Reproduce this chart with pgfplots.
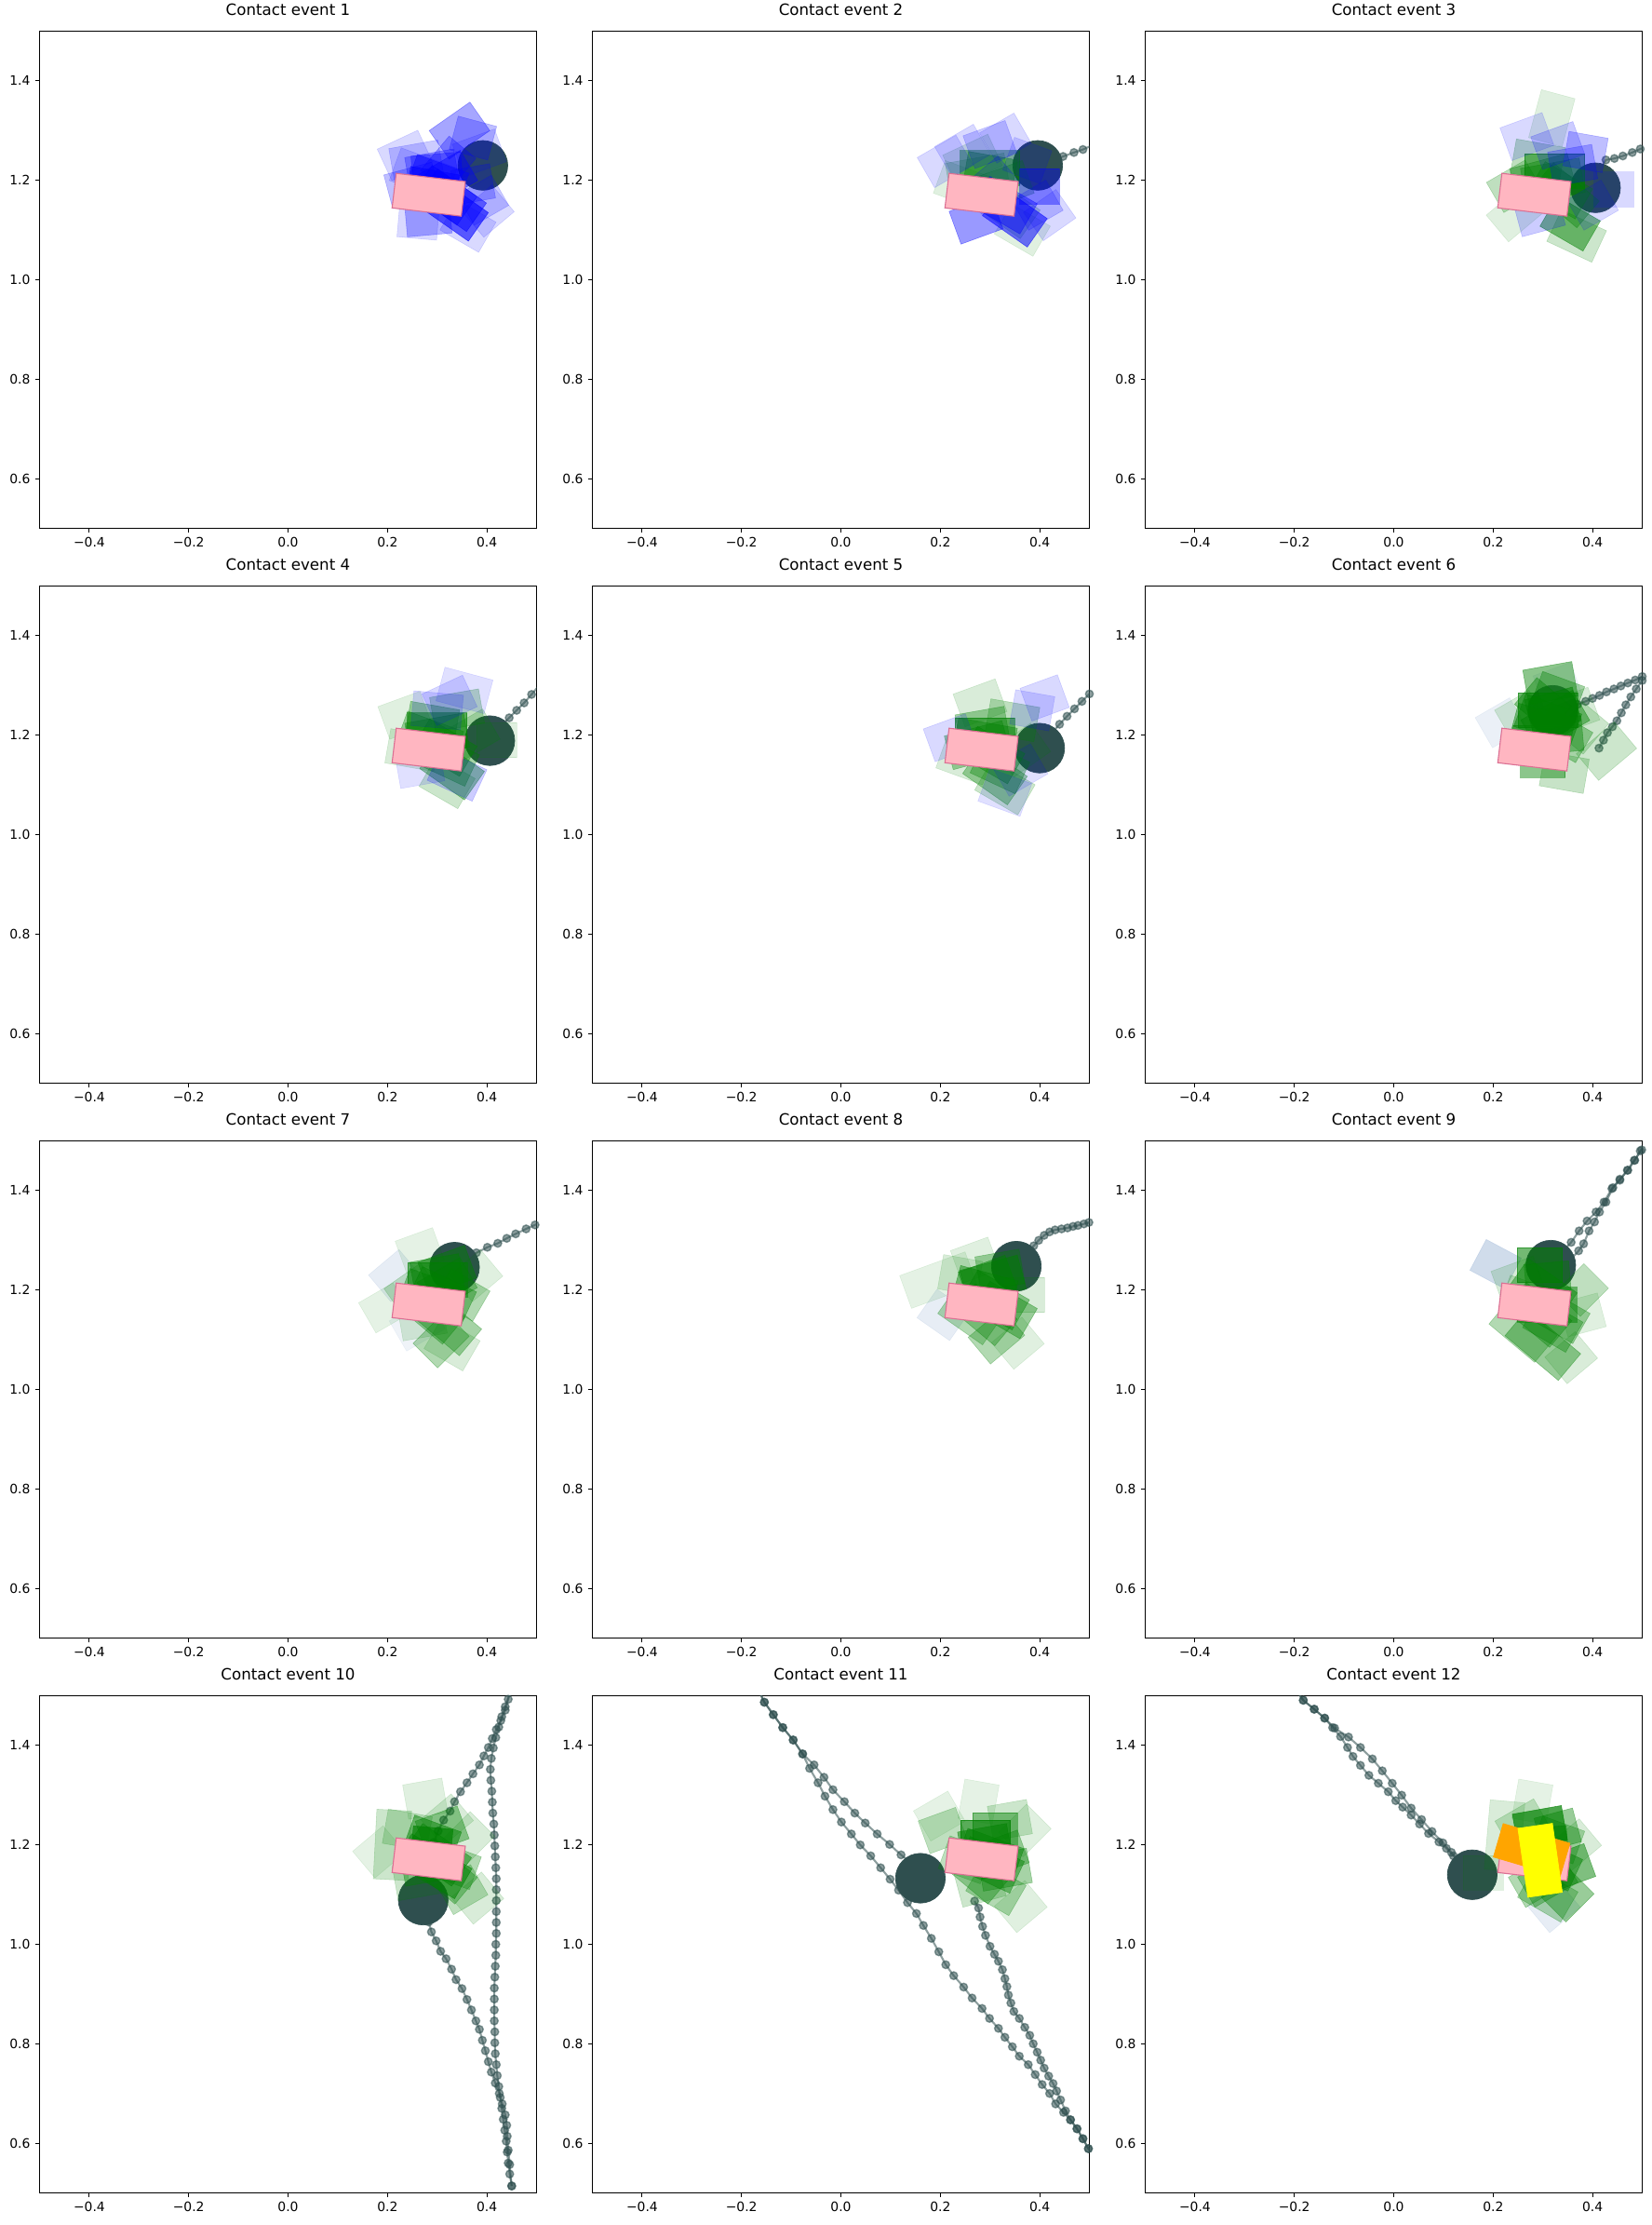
\documentclass[border=0pt]{standalone}
\usepackage{fontspec}
\setmainfont{DejaVu Sans}
\usepackage{pgfplots}
\pgfplotsset{compat=1.18}

\definecolor{dslate}{HTML}{2F4F4F}
\definecolor{lpink}{HTML}{FFB6C1}
\definecolor{pinkedge}{HTML}{DB7093}
\definecolor{mgreen}{HTML}{008000}
\definecolor{mblue}{HTML}{0000FF}
\definecolor{lsteel}{HTML}{B0C4DE}
\definecolor{morange}{HTML}{FFA500}
\definecolor{myellow}{HTML}{FFFF00}

\pgfplotsset{
  panel/.style={
    width=384.48pt, height=384.48pt, scale only axis, anchor=north west,
    xmin=-0.5, xmax=0.5, ymin=0.5, ymax=1.5,
    axis line style={line width=0.8pt, black},
    tick pos=left, tick align=outside, major tick length=3.5pt,
    every tick/.style={line width=0.8pt, black},
    xtick={-0.4,-0.2,0,0.2,0.4},
    xticklabels={−0.4,−0.2,0.0,0.2,0.4},
    ytick={0.6,0.8,1.0,1.2,1.4},
    yticklabels={0.6,0.8,1.0,1.2,1.4},
    tick label style={font=\fontsize{10}{12}\selectfont},
    xticklabel style={inner sep=0pt, anchor=north, yshift=-3.5pt},
    yticklabel style={inner sep=0pt, anchor=east, xshift=-3.5pt},
    title style={font=\fontsize{12}{14.4}\selectfont, at={(0.5,1)}, anchor=base, yshift=6pt, inner sep=0pt},
  },
  % one translucent pose hypothesis per row: centre, angle, width, opacity
  rects/.style={only marks, scatter, mark=square*, mark size=13.46pt,
    scatter/use mapped color={draw=#1, fill=#1},
    visualization depends on={\thisrow{a} \as \rang},
    visualization depends on={\thisrow{w}/0.07 \as \rsc},
    visualization depends on={\thisrow{o} \as \rop},
    scatter/@pre marker code/.append style={/tikz/rotate=\rang, /tikz/xscale=\rsc,
      /utils/exec={\pgfsetfillopacity{\rop}\pgfsetstrokeopacity{\rop}}, /tikz/line width=0.8pt}},
  traj/.style={color=dslate, line width=1.5pt, opacity=0.55, mark=*, mark size=3pt,
    mark options={line width=1pt, fill=dslate, fill opacity=0.55, draw opacity=0.55}},
  ball/.style={only marks, mark=*, mark size=19.22pt, mark options={fill=dslate, draw=dslate, line width=0.5pt}},
  block/.style={only marks, mark=square*, mark size=13.46pt,
    mark options={rotate=-6.8, xscale=2, fill=lpink, draw=pinkedge, line width=0.8pt}},
}

\begin{document}
\begin{tikzpicture}
\path (0,0) rectangle (1277.28pt,-1720.8pt);

% ---------------- row 1 ----------------
\begin{axis}[panel, at={(30.6pt,-24.12pt)}, title={Contact event 1}]
\addplot[ball] coordinates {(0.392,1.230)};
\addplot[rects=mblue] table {
x y a w o
0.345 1.300 35 0.10 0.35
0.372 1.285 -15 0.08 0.25
0.385 1.255 20 0.09 0.15
0.235 1.250 25 0.09 0.15
0.258 1.238 10 0.10 0.20
0.272 1.212 -20 0.12 0.15
0.300 1.218 5 0.10 0.35
0.312 1.200 30 0.12 0.40
0.290 1.185 -10 0.10 0.50
0.322 1.232 50 0.09 0.30
0.330 1.160 -35 0.12 0.50
0.342 1.135 -35 0.10 0.60
0.282 1.125 5 0.09 0.30
0.262 1.118 -5 0.08 0.15
0.392 1.160 30 0.08 0.20
0.402 1.138 40 0.08 0.15
0.372 1.192 10 0.08 0.25
0.362 1.108 -30 0.09 0.15
0.250 1.190 15 0.10 0.25
0.300 1.200 -20 0.11 0.40
0.315 1.170 -35 0.11 0.40
0.290 1.220 10 0.10 0.30
};
\addplot[block] coordinates {(0.283,1.171)};
\end{axis}

\begin{axis}[panel, at={(458.28pt,-24.12pt)}, title={Contact event 2}]
\addplot[traj] coordinates {(0.396,1.230) (0.427,1.240) (0.447,1.248) (0.469,1.256) (0.487,1.262) (0.505,1.270)};
\addplot[ball] coordinates {(0.396,1.230)};
\addplot[rects=mgreen] table {
x y a w o
0.300 1.225 0 0.12 0.45
0.275 1.210 10 0.12 0.20
0.245 1.190 -20 0.10 0.12
0.330 1.190 20 0.10 0.30
0.340 1.140 -35 0.10 0.20
0.365 1.100 -30 0.09 0.12
0.265 1.240 25 0.10 0.15
0.300 1.215 -10 0.10 0.40
};
\addplot[rects=mblue] table {
x y a w o
0.272 1.120 20 0.09 0.40
0.350 1.126 -35 0.11 0.55
0.331 1.285 30 0.08 0.15
0.300 1.272 20 0.09 0.20
0.210 1.238 30 0.09 0.15
0.400 1.188 0 0.08 0.40
0.420 1.130 35 0.08 0.15
0.395 1.150 30 0.08 0.20
0.245 1.260 30 0.09 0.15
0.375 1.240 -20 0.08 0.15
0.300 1.190 40 0.10 0.20
0.330 1.150 -30 0.11 0.40
};
\addplot[block] coordinates {(0.283,1.171)};
\end{axis}

\begin{axis}[panel, at={(885.96pt,-24.12pt)}, title={Contact event 3}]
\addplot[traj] coordinates {(0.406,1.185) (0.415,1.222) (0.427,1.241) (0.444,1.244) (0.461,1.249) (0.480,1.256) (0.496,1.263) (0.512,1.270)};
\addplot[ball] coordinates {(0.406,1.185)};
\addplot[rects=mgreen] table {
x y a w o
0.324 1.219 0 0.12 0.55
0.300 1.205 15 0.12 0.35
0.355 1.113 -30 0.10 0.50
0.368 1.088 -25 0.10 0.20
0.318 1.325 75 0.10 0.12
0.243 1.188 30 0.09 0.25
0.243 1.132 40 0.09 0.12
0.290 1.240 -10 0.10 0.25
0.345 1.170 -40 0.12 0.35
0.320 1.200 10 0.12 0.35
0.335 1.180 -30 0.11 0.35
};
\addplot[rects=mblue] table {
x y a w o
0.268 1.288 20 0.09 0.15
0.386 1.257 -10 0.08 0.25
0.443 1.182 0 0.08 0.15
0.293 1.132 15 0.09 0.20
0.330 1.270 20 0.09 0.20
0.400 1.150 30 0.08 0.15
0.360 1.230 10 0.09 0.25
};
\addplot[block] coordinates {(0.283,1.171)};
\end{axis}

% ---------------- row 2 ----------------
\begin{axis}[panel, at={(30.6pt,-453.24pt)}, title={Contact event 4}]
\addplot[traj] coordinates {(0.406,1.189) (0.430,1.220) (0.445,1.235) (0.460,1.250) (0.475,1.265) (0.490,1.282) (0.505,1.300)};
\addplot[ball] coordinates {(0.406,1.189)};
\addplot[rects=mgreen] table {
x y a w o
0.300 1.210 0 0.12 0.55
0.285 1.195 -20 0.12 0.35
0.235 1.240 20 0.09 0.12
0.250 1.170 -10 0.10 0.15
0.330 1.130 -35 0.11 0.40
0.320 1.105 -30 0.09 0.20
0.340 1.250 10 0.10 0.25
0.370 1.200 30 0.09 0.20
0.420 1.190 0 0.08 0.12
0.300 1.200 10 0.12 0.40
0.315 1.175 -30 0.11 0.40
0.290 1.225 -10 0.10 0.35
0.325 1.150 -25 0.10 0.35
};
\addplot[rects=mblue] table {
x y a w o
0.355 1.290 -15 0.10 0.12
0.325 1.270 25 0.09 0.15
0.300 1.250 -5 0.10 0.15
0.340 1.120 -25 0.10 0.20
0.265 1.135 10 0.09 0.12
};
\addplot[block] coordinates {(0.283,1.171)};
\end{axis}

\begin{axis}[panel, at={(458.28pt,-453.24pt)}, title={Contact event 5}]
\addplot[traj] coordinates {(0.400,1.174) (0.425,1.205) (0.440,1.222) (0.455,1.238) (0.470,1.253) (0.485,1.268) (0.500,1.283) (0.515,1.298)};
\addplot[ball] coordinates {(0.400,1.174)};
\addplot[rects=mgreen] table {
x y a w o
0.290 1.200 0 0.12 0.55
0.275 1.180 15 0.12 0.35
0.280 1.265 20 0.09 0.15
0.250 1.150 -20 0.10 0.15
0.310 1.120 -35 0.11 0.35
0.330 1.095 -30 0.10 0.20
0.345 1.230 -10 0.10 0.25
0.365 1.170 35 0.09 0.15
0.290 1.190 -10 0.12 0.40
0.305 1.160 -30 0.11 0.40
0.285 1.215 10 0.10 0.35
0.320 1.135 -25 0.10 0.35
};
\addplot[rects=mblue] table {
x y a w o
0.410 1.275 20 0.08 0.15
0.385 1.250 -10 0.08 0.15
0.220 1.195 20 0.09 0.15
0.330 1.085 -20 0.09 0.12
0.360 1.130 30 0.09 0.12
};
\addplot[block] coordinates {(0.283,1.171)};
\end{axis}

\begin{axis}[panel, at={(885.96pt,-453.24pt)}, title={Contact event 6}]
\addplot[traj] coordinates {(0.320,1.250) (0.350,1.260) (0.370,1.262) (0.386,1.268) (0.400,1.274) (0.414,1.280) (0.428,1.287) (0.443,1.293) (0.457,1.299) (0.471,1.305) (0.486,1.311) (0.500,1.318) (0.515,1.325)};
\addplot[traj] coordinates {(0.413,1.174) (0.422,1.190) (0.430,1.205) (0.440,1.217) (0.449,1.229) (0.458,1.245) (0.467,1.261) (0.477,1.277) (0.488,1.293) (0.500,1.310) (0.510,1.325)};
\addplot[ball] coordinates {(0.320,1.250)};
\addplot[rects=lsteel] table {
x y a w o
0.216 1.225 30 0.08 0.25
0.330 1.300 20 0.08 0.20
};
\addplot[rects=mgreen] table {
x y a w o
0.315 1.305 10 0.10 0.45
0.310 1.250 0 0.12 0.55
0.325 1.230 30 0.12 0.45
0.300 1.215 -15 0.12 0.45
0.290 1.185 0 0.10 0.40
0.340 1.200 -30 0.10 0.35
0.428 1.168 40 0.10 0.20
0.343 1.125 -10 0.09 0.22
0.300 1.150 0 0.09 0.45
0.365 1.250 20 0.08 0.15
0.380 1.215 50 0.08 0.20
0.255 1.240 30 0.08 0.15
0.330 1.280 -20 0.09 0.35
0.320 1.250 15 0.10 0.50
0.310 1.230 -20 0.12 0.45
0.330 1.200 5 0.10 0.40
0.300 1.260 -40 0.09 0.40
};
\addplot[block] coordinates {(0.283,1.171)};
\end{axis}

% ---------------- row 3 ----------------
\begin{axis}[panel, at={(30.6pt,-882.36pt)}, title={Contact event 7}]
\addplot[traj] coordinates {(0.335,1.246) (0.360,1.263) (0.379,1.275) (0.401,1.286) (0.422,1.294) (0.440,1.304) (0.458,1.313) (0.479,1.323) (0.497,1.331) (0.515,1.340)};
\addplot[ball] coordinates {(0.335,1.246)};
\addplot[rects=lsteel] table {
x y a w o
0.215 1.229 40 0.08 0.30
0.260 1.130 30 0.09 0.20
};
\addplot[rects=mgreen] table {
x y a w o
0.301 1.221 0 0.12 0.50
0.320 1.240 20 0.10 0.45
0.290 1.190 -20 0.12 0.40
0.308 1.100 45 0.09 0.30
0.325 1.130 -40 0.11 0.35
0.194 1.164 30 0.08 0.10
0.265 1.279 20 0.08 0.10
0.379 1.229 40 0.08 0.12
0.350 1.190 -30 0.09 0.30
0.270 1.140 10 0.09 0.15
0.330 1.090 -30 0.09 0.15
0.250 1.200 35 0.09 0.20
0.300 1.230 10 0.10 0.45
0.310 1.190 -25 0.12 0.40
0.295 1.150 -40 0.10 0.35
0.320 1.210 30 0.10 0.35
};
\addplot[block] coordinates {(0.283,1.171)};
\end{axis}

\begin{axis}[panel, at={(458.28pt,-882.36pt)}, title={Contact event 8}]
\addplot[traj] coordinates {(0.353,1.248) (0.375,1.275) (0.388,1.289) (0.398,1.300) (0.409,1.310) (0.420,1.317) (0.431,1.321) (0.444,1.323) (0.456,1.325) (0.467,1.328) (0.477,1.330) (0.489,1.333) (0.499,1.336) (0.510,1.340)};
\addplot[ball] coordinates {(0.353,1.248)};
\addplot[rects=lsteel] table {
x y a w o
0.206 1.150 -35 0.08 0.30
};
\addplot[rects=mgreen] table {
x y a w o
0.196 1.220 20 0.14 0.10
0.306 1.221 15 0.12 0.50
0.290 1.200 -15 0.12 0.45
0.313 1.107 40 0.09 0.30
0.356 1.093 40 0.08 0.12
0.330 1.160 -30 0.11 0.40
0.260 1.150 -35 0.11 0.30
0.370 1.190 0 0.08 0.15
0.270 1.260 20 0.08 0.12
0.240 1.230 -10 0.08 0.15
0.295 1.220 20 0.10 0.45
0.310 1.180 -30 0.12 0.40
0.290 1.150 -40 0.11 0.35
0.320 1.240 10 0.09 0.35
};
\addplot[block] coordinates {(0.283,1.171)};
\end{axis}

\begin{axis}[panel, at={(885.96pt,-882.36pt)}, title={Contact event 9}]
\addplot[traj] coordinates {(0.316,1.250) (0.340,1.278) (0.357,1.296) (0.373,1.319) (0.389,1.339) (0.407,1.357) (0.423,1.377) (0.439,1.404) (0.455,1.423) (0.471,1.441) (0.485,1.461) (0.496,1.480) (0.510,1.500)};
\addplot[traj] coordinates {(0.355,1.260) (0.372,1.279) (0.382,1.293) (0.393,1.319) (0.404,1.337) (0.414,1.357) (0.427,1.377) (0.441,1.406) (0.455,1.421) (0.470,1.441) (0.484,1.461) (0.499,1.482) (0.510,1.500)};
\addplot[ball] coordinates {(0.316,1.250)};
\addplot[rects=lsteel] table {
x y a w o
0.205 1.252 -28 0.08 0.60
};
\addplot[rects=mgreen] table {
x y a w o
0.294 1.250 0 0.09 0.55
0.308 1.171 0 0.12 0.50
0.300 1.090 -40 0.14 0.40
0.357 1.064 40 0.08 0.15
0.379 1.200 45 0.08 0.25
0.260 1.120 -40 0.12 0.30
0.330 1.150 -30 0.11 0.35
0.250 1.220 20 0.09 0.15
0.380 1.150 15 0.08 0.12
0.270 1.180 -20 0.10 0.20
0.300 1.200 -35 0.12 0.40
0.290 1.150 -40 0.12 0.35
0.310 1.220 5 0.09 0.40
0.320 1.130 -30 0.10 0.35
};
\addplot[block] coordinates {(0.283,1.171)};
\end{axis}

% ---------------- row 4 ----------------
\begin{axis}[panel, at={(30.6pt,-1311.48pt)}, title={Contact event 10}]
\addplot[traj] coordinates {(0.449,1.515) (0.443,1.493) (0.437,1.471) (0.428,1.450) (0.419,1.432) (0.411,1.414) (0.403,1.396) (0.394,1.379) (0.385,1.361) (0.372,1.343) (0.360,1.325) (0.347,1.307) (0.335,1.287) (0.326,1.268) (0.313,1.250) (0.302,1.228) (0.293,1.205) (0.286,1.182) (0.280,1.158) (0.276,1.135) (0.274,1.112) (0.275,1.089) (0.278,1.066) (0.283,1.045) (0.2885,1.025) (0.298,1.007) (0.307,0.986) (0.318,0.971) (0.329,0.950) (0.338,0.929) (0.350,0.911) (0.360,0.889) (0.369,0.868) (0.378,0.846) (0.385,0.829) (0.391,0.807) (0.397,0.786) (0.403,0.764) (0.409,0.743) (0.417,0.721) (0.425,0.700) (0.431,0.679) (0.437,0.657) (0.440,0.636) (0.441,0.614) (0.443,0.586) (0.446,0.557) (0.450,0.514)};
\addplot[traj] coordinates {(0.449,1.515) (0.437,1.478) (0.430,1.458) (0.424,1.437) (0.418,1.416) (0.413,1.395) (0.409,1.374) (0.407,1.352) (0.408,1.330) (0.410,1.308) (0.411,1.286) (0.412,1.264) (0.414,1.242) (0.415,1.220) (0.416,1.198) (0.417,1.176) (0.418,1.154) (0.419,1.132) (0.419,1.110) (0.419,1.088) (0.419,1.066) (0.419,1.044) (0.419,1.022) (0.418,1.000) (0.418,0.978) (0.417,0.956) (0.416,0.934) (0.415,0.912) (0.415,0.890) (0.415,0.868) (0.415,0.846) (0.416,0.824) (0.416,0.802) (0.417,0.780) (0.419,0.758) (0.421,0.736) (0.424,0.714) (0.427,0.692) (0.430,0.670) (0.433,0.648) (0.436,0.626) (0.439,0.604) (0.441,0.582) (0.443,0.560) (0.446,0.538) (0.450,0.514)};
\addplot[ball] coordinates {(0.272,1.089)};
\addplot[rects=mgreen] table {
x y a w o
0.276 1.293 10 0.08 0.12
0.183 1.186 40 0.08 0.10
0.210 1.200 87 0.14 0.20
0.289 1.200 -5 0.08 0.65
0.292 1.157 -30 0.14 0.55
0.363 1.214 45 0.08 0.15
0.381 1.093 40 0.08 0.15
0.350 1.110 30 0.08 0.25
0.240 1.230 -10 0.09 0.20
0.320 1.250 40 0.08 0.15
0.330 1.160 -20 0.10 0.30
0.260 1.130 10 0.09 0.20
0.290 1.210 -20 0.10 0.50
0.300 1.180 -35 0.12 0.45
0.280 1.160 10 0.10 0.40
0.310 1.230 20 0.09 0.40
0.320 1.140 -40 0.10 0.35
};
\addplot[block] coordinates {(0.283,1.171)};
\end{axis}

\begin{axis}[panel, at={(458.28pt,-1311.48pt)}, title={Contact event 11}]
\addplot[traj] coordinates {(-0.165,1.510) (-0.154,1.487) (-0.136,1.462) (-0.117,1.436) (-0.096,1.411) (-0.077,1.383) (-0.063,1.354) (-0.046,1.325) (-0.032,1.298) (-0.016,1.271) (0.001,1.246) (0.021,1.222) (0.039,1.200) (0.060,1.178) (0.080,1.154) (0.099,1.131) (0.116,1.109) (0.134,1.084) (0.152,1.062) (0.166,1.038) (0.182,1.012) (0.197,0.985) (0.211,0.959) (0.227,0.937) (0.247,0.914) (0.264,0.892) (0.284,0.871) (0.299,0.851) (0.317,0.831) (0.330,0.813) (0.345,0.794) (0.359,0.775) (0.377,0.758) (0.391,0.738) (0.405,0.718) (0.420,0.700) (0.432,0.679) (0.448,0.662) (0.462,0.647) (0.475,0.629) (0.487,0.609) (0.498,0.589) (0.510,0.575)};
\addplot[traj] coordinates {(-0.165,1.510) (-0.154,1.487) (-0.136,1.462) (-0.117,1.436) (-0.096,1.411) (-0.077,1.383) (-0.054,1.361) (-0.034,1.336) (-0.016,1.311) (0.007,1.287) (0.028,1.264) (0.049,1.244) (0.073,1.222) (0.098,1.201) (0.121,1.180) (0.140,1.165)};
\addplot[traj] coordinates {(0.269,1.087) (0.277,1.073) (0.280,1.055) (0.285,1.036) (0.291,1.018) (0.300,0.996) (0.309,0.980) (0.317,0.966) (0.325,0.949) (0.330,0.931) (0.334,0.915) (0.337,0.898) (0.342,0.882) (0.348,0.865) (0.359,0.851) (0.370,0.833) (0.380,0.817) (0.387,0.800) (0.395,0.783) (0.402,0.767) (0.409,0.751) (0.418,0.735) (0.427,0.720) (0.434,0.705) (0.442,0.687) (0.452,0.665) (0.462,0.647) (0.475,0.629) (0.487,0.609) (0.498,0.589) (0.510,0.575)};
\addplot[ball] coordinates {(0.160,1.133)};
\addplot[rects=mgreen] table {
x y a w o
0.198 1.258 30 0.08 0.10
0.277 1.287 80 0.08 0.10
0.291 1.215 0 0.10 0.65
0.205 1.229 20 0.08 0.25
0.370 1.229 45 0.08 0.12
0.312 1.113 -30 0.10 0.30
0.362 1.076 40 0.08 0.12
0.300 1.180 -20 0.12 0.45
0.330 1.150 10 0.10 0.35
0.250 1.170 -20 0.09 0.25
0.340 1.250 10 0.08 0.20
0.280 1.120 15 0.09 0.20
0.290 1.200 10 0.10 0.50
0.300 1.160 -25 0.12 0.45
0.310 1.230 0 0.09 0.45
0.280 1.140 -40 0.10 0.35
0.320 1.180 20 0.10 0.35
};
\addplot[block] coordinates {(0.283,1.171)};
\end{axis}

\begin{axis}[panel, at={(885.96pt,-1311.48pt)}, title={Contact event 12}]
\addplot[traj] coordinates {(-0.195,1.510) (-0.182,1.491) (-0.160,1.473) (-0.139,1.455) (-0.119,1.435) (-0.091,1.417) (-0.067,1.396) (-0.043,1.373) (-0.023,1.349) (-0.003,1.324) (0.016,1.300) (0.035,1.274) (0.056,1.251) (0.077,1.227) (0.099,1.204) (0.116,1.185) (0.158,1.140)};
\addplot[traj] coordinates {(-0.195,1.510) (-0.182,1.491) (-0.160,1.473) (-0.139,1.455) (-0.123,1.436) (-0.107,1.418) (-0.093,1.396) (-0.082,1.378) (-0.067,1.360) (-0.050,1.340) (-0.031,1.324) (-0.011,1.307) (0.004,1.289) (0.018,1.276) (0.035,1.260) (0.052,1.242) (0.070,1.223) (0.091,1.206) (0.106,1.193) (0.120,1.178) (0.158,1.140)};
\addplot[ball] coordinates {(0.158,1.140)};
\addplot[rects=lsteel] table {
x y a w o
0.322 1.076 40 0.08 0.30
};
\addplot[rects=mgreen] table {
x y a w o
0.223 1.218 85 0.14 0.15
0.279 1.287 80 0.08 0.10
0.180 1.144 0 0.08 0.12
0.294 1.236 10 0.10 0.70
0.365 1.200 40 0.08 0.15
0.357 1.156 20 0.08 0.50
0.350 1.098 45 0.08 0.40
0.287 1.127 30 0.09 0.30
0.260 1.240 30 0.09 0.20
0.330 1.210 -20 0.09 0.30
0.310 1.100 -30 0.10 0.30
0.300 1.200 5 0.10 0.50
0.320 1.160 -25 0.10 0.45
0.310 1.130 30 0.10 0.35
0.330 1.230 15 0.08 0.40
};
\addplot[block] coordinates {(0.283,1.171)};
\addplot[only marks, mark=square*, mark size=13.46pt,
  mark options={rotate=-16.4, xscale=2, fill=morange, draw=morange, line width=0.5pt}] coordinates {(0.2775,1.1895)};
\addplot[only marks, mark=square*, mark size=13.46pt,
  mark options={rotate=98.2, xscale=2, fill=myellow, draw=myellow, line width=0.5pt}] coordinates {(0.2945,1.169)};
\end{axis}
\end{tikzpicture}
\end{document}
